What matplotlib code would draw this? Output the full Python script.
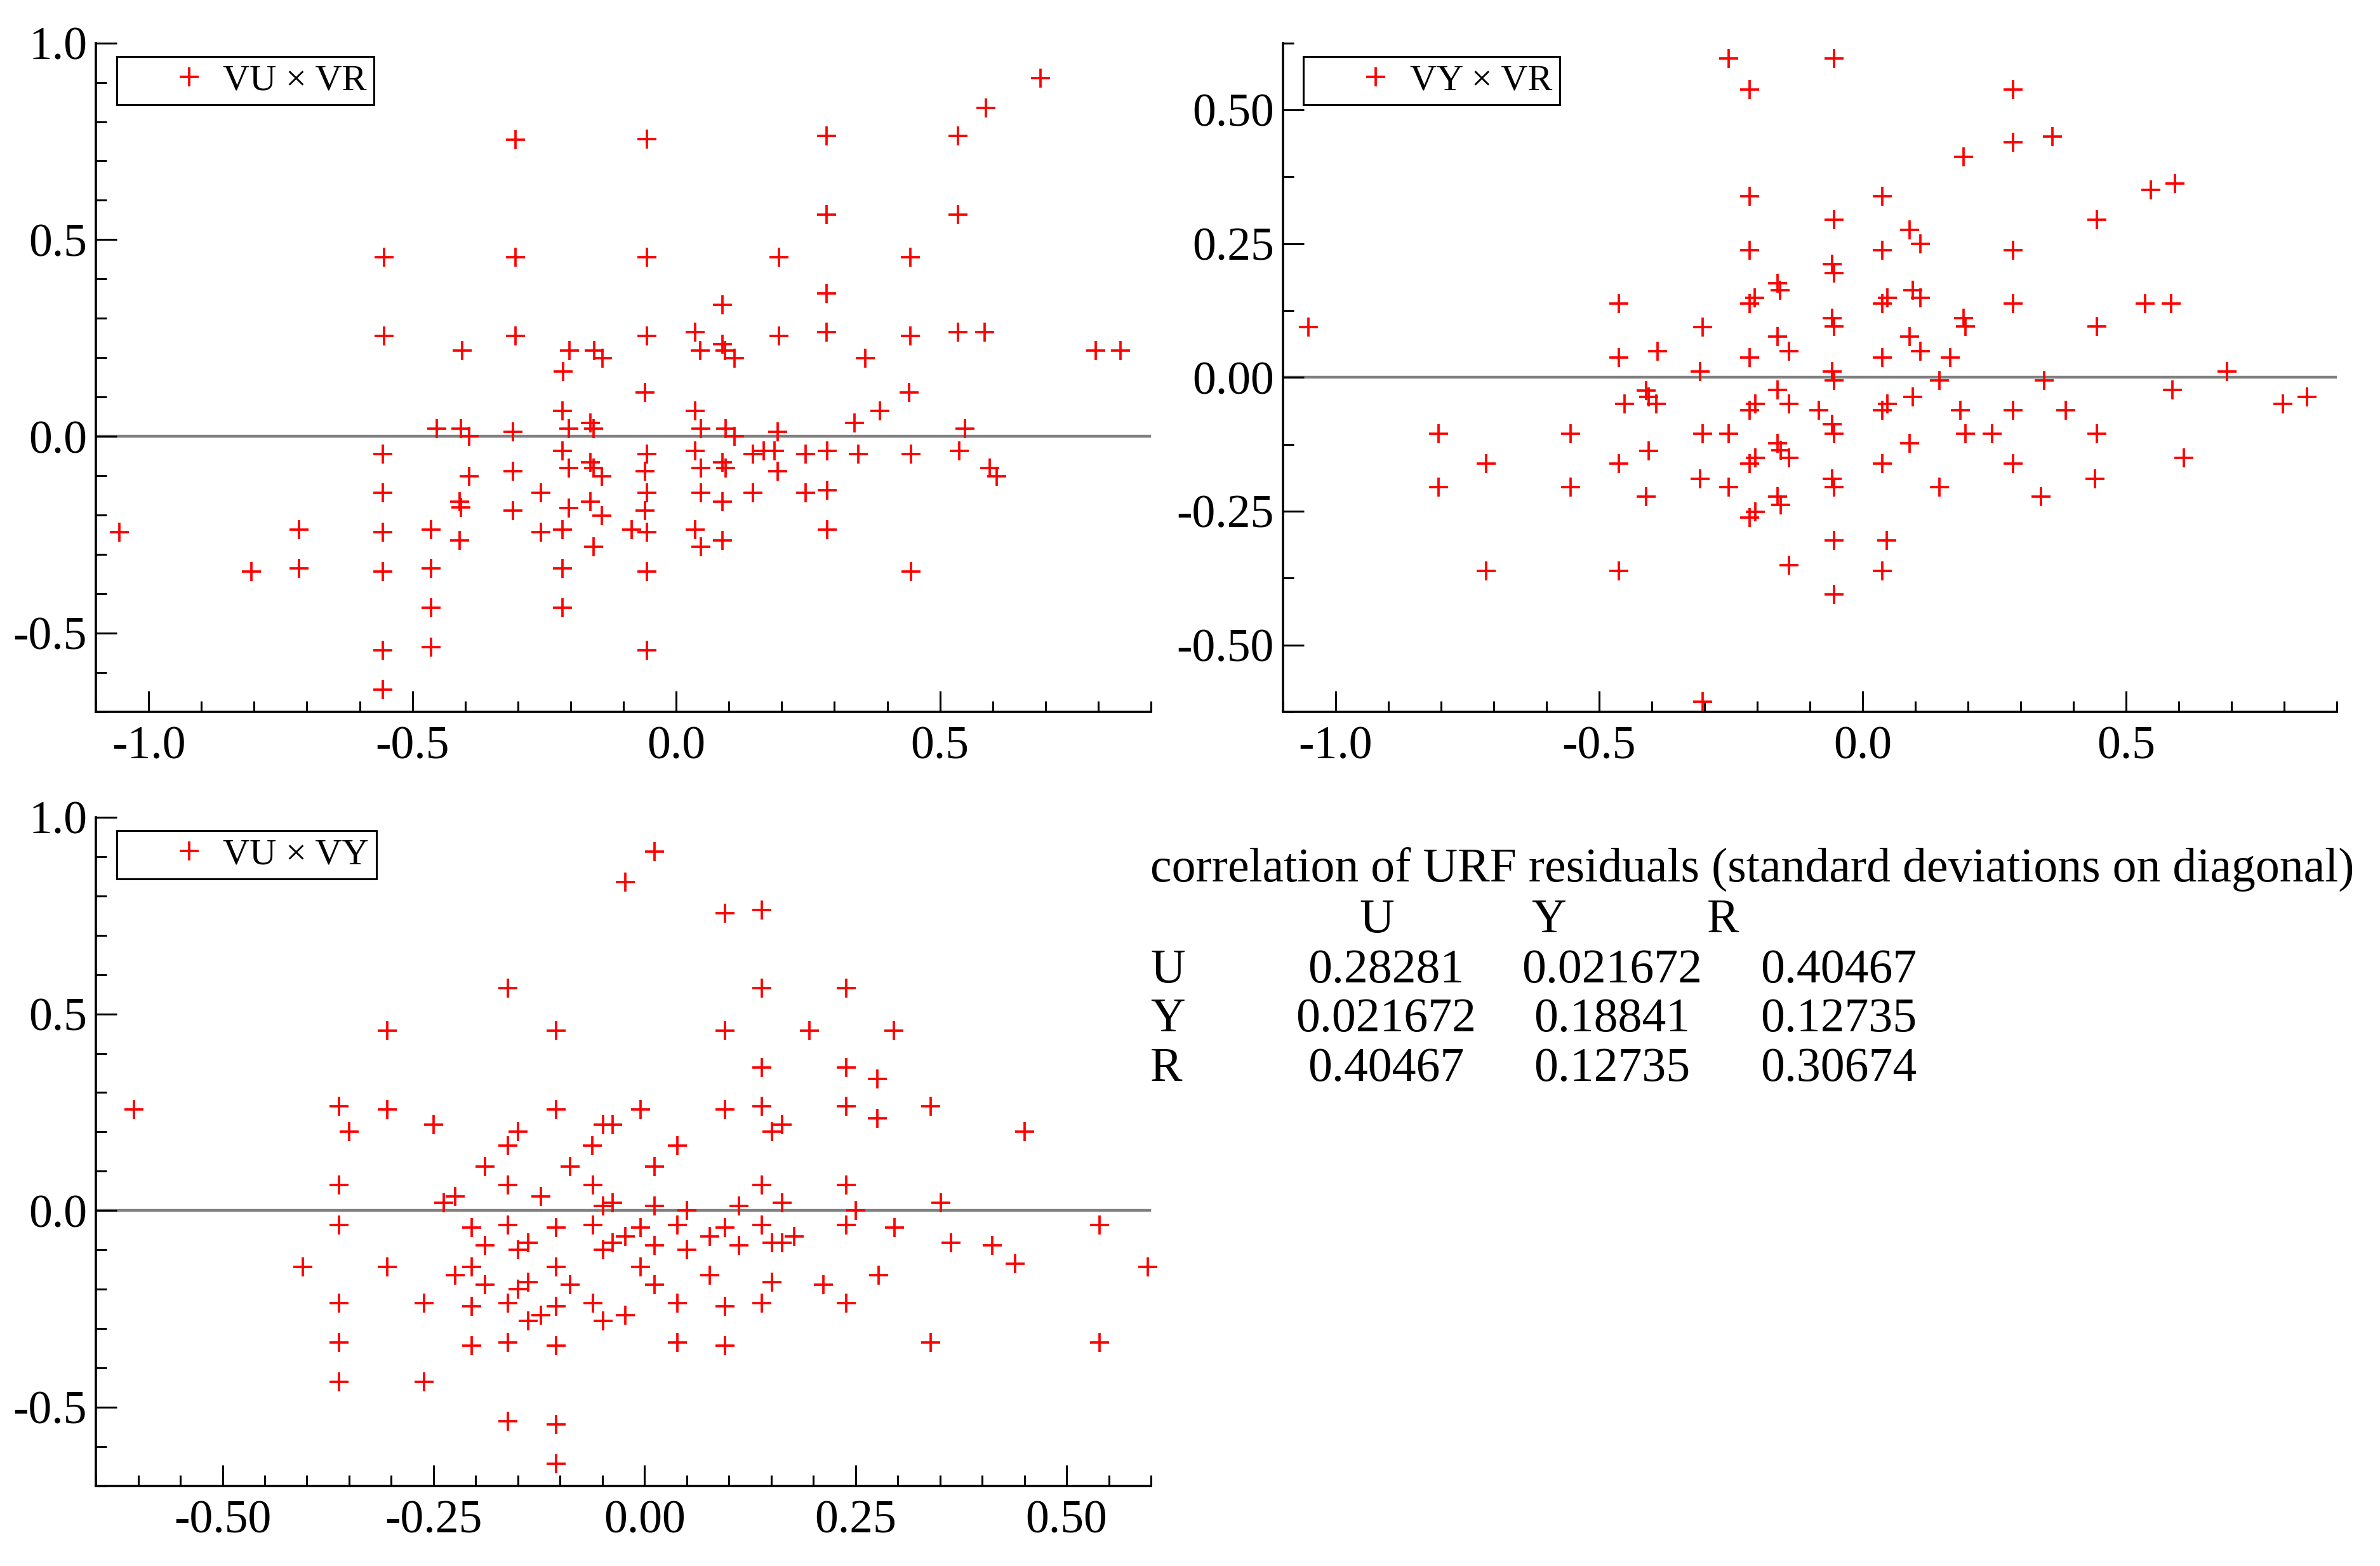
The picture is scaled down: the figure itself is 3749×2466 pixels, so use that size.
import numpy as np
import matplotlib
matplotlib.use('Agg')
import matplotlib.pyplot as plt
from matplotlib.ticker import MultipleLocator, FormatStrFormatter

plt.rcParams['font.family'] = ['Liberation Serif', 'DejaVu Serif']
plt.rcParams['axes.unicode_minus'] = False

# ---- panel 1: VU (y) against VR (x)
vr_1 = [-0.305, -0.554, -0.305, -0.554, -0.305, -0.406, -0.202, -0.156, -0.140, -0.214,
        0.690, 0.587, -0.055, 0.285, 0.534, 0.285, 0.534, -0.055, 0.195, 0.444,
        0.285, 0.088, -0.055, 0.036, 0.195, 0.285, 0.444, 0.534, 0.585, 0.046,
        0.088, 0.093, 0.110, 0.359, 0.795, 0.842,
        -0.216, -0.454, -0.408, -0.393, -0.310, -0.204, -0.163, -0.157, -0.556, -0.216,
        -0.393, -0.310, -0.204, -0.163, -0.157, -0.141, -0.556, -0.411, -0.408, -0.256,
        -0.310, -0.204, -0.163, -0.141, -1.056, -0.715, -0.556, -0.465, -0.411, -0.256,
        -0.216, -0.157, -0.805, -0.715, -0.556, -0.465, -0.216, -0.465, -0.216, -0.556,
        -0.465, -0.556,
        -0.059, 0.441, 0.036, 0.386, 0.338, 0.047, 0.094, 0.110, 0.192, 0.547,
        -0.055, 0.036, 0.146, 0.166, 0.186, 0.245, 0.286, 0.345, 0.445, 0.536,
        -0.059, 0.047, 0.088, 0.094, 0.192, 0.594, 0.608, -0.055, 0.047, 0.088,
        0.146, 0.245, 0.286, -0.059, -0.084, -0.055, 0.036, 0.286, 0.047, 0.088,
        -0.055, 0.445, -0.055]
vu_1 = [0.754, 0.456, 0.456, 0.256, 0.256, 0.218, 0.218, 0.218, 0.199, 0.165,
        0.910, 0.834, 0.755, 0.763, 0.763, 0.564, 0.564, 0.456, 0.456, 0.456,
        0.364, 0.334, 0.256, 0.265, 0.256, 0.265, 0.256, 0.265, 0.265, 0.218,
        0.235, 0.218, 0.199, 0.199, 0.218, 0.218,
        0.065, 0.019, 0.019, 0.000, 0.011, 0.019, 0.035, 0.019, -0.044, -0.036,
        -0.101, -0.089, -0.081, -0.066, -0.081, -0.101, -0.144, -0.165, -0.180, -0.144,
        -0.188, -0.182, -0.165, -0.201, -0.243, -0.236, -0.243, -0.236, -0.265, -0.243,
        -0.236, -0.281, -0.343, -0.336, -0.343, -0.336, -0.336, -0.436, -0.436, -0.543,
        -0.536, -0.644,
        0.111, 0.111, 0.065, 0.065, 0.035, 0.019, 0.019, 0.000, 0.011, 0.019,
        -0.044, -0.036, -0.044, -0.036, -0.036, -0.044, -0.036, -0.044, -0.044, -0.036,
        -0.089, -0.081, -0.066, -0.081, -0.089, -0.081, -0.101, -0.144, -0.144, -0.165,
        -0.144, -0.144, -0.136, -0.188, -0.236, -0.243, -0.236, -0.236, -0.281, -0.265,
        -0.343, -0.343, -0.543]

# ---- panel 2: VY (y) against VR (x)
vr_2 = [-0.254, -0.214, -0.214, -0.214, -0.463, -0.214, -0.205, -1.052, -0.303, -0.463,
        -0.389, -0.214, -0.308,
        -0.054, 0.285, 0.285, 0.360, 0.191, 0.037, 0.547, 0.593, -0.054, 0.444,
        0.089, 0.110, 0.037, 0.285, -0.058, -0.054, -0.161, -0.156, 0.095, 0.110,
        0.047, 0.037, 0.285, 0.536, 0.586, -0.058, -0.054, 0.191, 0.195, 0.444,
        -0.161, -0.140, 0.089, 0.110, 0.037, 0.166, -0.058, -0.054, 0.146, 0.345,
        0.691,
        -0.411, -0.406, -0.452, -0.391, -0.214, -0.204, -0.804, -0.554, -0.304, -0.254,
        -0.406, -0.714, -0.463, -0.214, -0.204, -0.308, -0.804, -0.554, -0.254, -0.411,
        -0.214, -0.204, -0.714, -0.463, -0.304,
        -0.161, 0.588, 0.843, 0.095, -0.140, 0.037, 0.047, -0.083, 0.186, 0.285,
        0.386, 0.797, -0.058, -0.054, 0.195, 0.246, 0.444, -0.161, -0.155, -0.140,
        0.089, 0.037, 0.285, 0.609, -0.058, -0.054, 0.146, 0.441, 0.338, -0.161,
        -0.155, -0.054, 0.046, -0.140, 0.037, -0.054]
vy_2 = [0.596, 0.538, 0.338, 0.238, 0.138, 0.138, 0.149, 0.094, 0.094, 0.037,
        0.049, 0.037, 0.011,
        0.596, 0.538, 0.439, 0.450, 0.412, 0.338, 0.350, 0.362, 0.295, 0.295,
        0.276, 0.250, 0.238, 0.238, 0.212, 0.195, 0.176, 0.163, 0.163, 0.149,
        0.149, 0.138, 0.138, 0.138, 0.138, 0.111, 0.095, 0.111, 0.095, 0.095,
        0.076, 0.049, 0.076, 0.049, 0.037, 0.037, 0.011, -0.005, -0.005, -0.005,
        0.011,
        -0.024, -0.037, -0.049, -0.049, -0.061, -0.050, -0.105, -0.105, -0.105, -0.105,
        -0.137, -0.161, -0.161, -0.161, -0.150, -0.189, -0.205, -0.205, -0.205, -0.223,
        -0.262, -0.251, -0.362, -0.362, -0.606,
        -0.023, -0.023, -0.037, -0.037, -0.049, -0.061, -0.049, -0.061, -0.061, -0.061,
        -0.061, -0.049, -0.088, -0.105, -0.105, -0.105, -0.105, -0.123, -0.136, -0.150,
        -0.123, -0.161, -0.161, -0.150, -0.189, -0.205, -0.205, -0.189, -0.223, -0.223,
        -0.238, -0.305, -0.305, -0.351, -0.362, -0.405]

# ---- panel 3: VU (y) against VY (x)
vy_3 = [-0.162, -0.305, -0.105, -0.605, -0.362, -0.305, -0.105, -0.350, -0.250, -0.150,
        -0.049, -0.038, -0.162, -0.062, -0.189, -0.088,
        0.012, -0.023, 0.095, 0.139, 0.139, 0.239, 0.095, 0.195, 0.295, 0.139,
        0.239, 0.276, -0.005, 0.095, 0.139, 0.239, 0.276, 0.339, 0.151, 0.163,
        0.450, 0.039, 0.012,
        -0.362, -0.162, -0.061, -0.224, -0.238, -0.123, -0.049, -0.038, -0.362, -0.205,
        -0.162, -0.105, -0.061, -0.189, -0.150, -0.138, -0.049, -0.038, -0.405, -0.305,
        -0.205, -0.224, -0.105, -0.189, -0.150, -0.138, -0.088, -0.362, -0.261, -0.205,
        -0.162, -0.105, -0.061, -0.123, -0.138, -0.049, -0.362, -0.205, -0.162, -0.105,
        -0.362, -0.261, -0.162, -0.105, -0.105,
        0.139, 0.239, 0.012, 0.050, 0.112, 0.163, 0.250, 0.351, -0.005, 0.039,
        0.095, 0.139, 0.239, 0.296, 0.539, -0.023, 0.077, 0.177, 0.012, 0.050,
        0.112, 0.151, 0.163, 0.363, 0.412, 0.439, 0.596, -0.005, 0.077, 0.012,
        0.151, 0.212, 0.277, 0.039, 0.095, 0.139, 0.239, -0.023, 0.039, 0.095,
        0.339, 0.539]
vu_3 = [0.565, 0.457, 0.457, 0.257, 0.265, 0.257, 0.257, 0.200, 0.218, 0.200,
        0.218, 0.218, 0.165, 0.165, 0.112, 0.112,
        0.912, 0.835, 0.756, 0.765, 0.565, 0.565, 0.457, 0.457, 0.457, 0.364,
        0.364, 0.335, 0.257, 0.257, 0.265, 0.265, 0.234, 0.265, 0.200, 0.218,
        0.200, 0.165, 0.112,
        0.065, 0.065, 0.065, 0.036, 0.019, 0.036, 0.011, 0.019, -0.036, -0.043,
        -0.036, -0.043, -0.036, -0.088, -0.100, -0.082, -0.100, -0.082, -0.144, -0.144,
        -0.144, -0.165, -0.144, -0.188, -0.200, -0.182, -0.188, -0.236, -0.236, -0.244,
        -0.236, -0.244, -0.236, -0.266, -0.281, -0.281, -0.336, -0.343, -0.336, -0.343,
        -0.436, -0.436, -0.536, -0.544, -0.644,
        0.065, 0.065, 0.011, 0.000, 0.011, 0.019, 0.000, 0.019, -0.043, -0.036,
        -0.043, -0.036, -0.036, -0.043, -0.036, -0.065, -0.065, -0.065, -0.088, -0.100,
        -0.088, -0.082, -0.082, -0.082, -0.088, -0.136, -0.144, -0.144, -0.165, -0.188,
        -0.182, -0.188, -0.165, -0.236, -0.244, -0.236, -0.236, -0.266, -0.336, -0.343,
        -0.336, -0.336]

# ---- correlation table text
table_title = 'correlation of URF residuals (standard deviations on diagonal)'
var_names = ['U', 'Y', 'R']
corr_rows = [[0.28281, 0.021672, 0.40467],
             [0.021672, 0.18841, 0.12735],
             [0.40467, 0.12735, 0.30674]]

TICK_FS = 53
TEXT_FS = 54.5
LEGEND_FS = 42


def style_axes(ax, xlim, ylim, xstep, xminor, ystep, yminor, xfmt, yfmt):
    '''
    only left and bottom spines, inward ticks, gray zero line
    '''
    ax.set_xlim(xlim)
    ax.set_ylim(ylim)
    for side in ['top', 'right']:
        ax.spines[side].set_visible(False)
    for side in ['left', 'bottom']:
        ax.spines[side].set_linewidth(2.6)
    ax.xaxis.set_major_locator(MultipleLocator(xstep))
    ax.xaxis.set_minor_locator(MultipleLocator(xminor))
    ax.yaxis.set_major_locator(MultipleLocator(ystep))
    ax.yaxis.set_minor_locator(MultipleLocator(yminor))
    ax.xaxis.set_major_formatter(FormatStrFormatter(xfmt))
    ax.yaxis.set_major_formatter(FormatStrFormatter(yfmt))
    ax.tick_params(which='both', direction='in', top=False, right=False, width=2.2)
    ax.tick_params(which='major', length=23.5, labelsize=TICK_FS)
    ax.tick_params(which='minor', length=12.5)
    ax.tick_params(axis='x', pad=16)
    ax.tick_params(axis='y', pad=10)
    ax.axhline(0, color='#808080', lw=3.2, zorder=1)


def scatter_panel(ax, x, y, label):
    ax.plot(x, y, linestyle='none', marker='+', color='red', markersize=22,
            markeredgewidth=2.7, label=label, zorder=3, clip_on=False)
    leg = ax.legend(loc='upper left', bbox_to_anchor=(0.0197, 0.98), borderaxespad=0,
                    fontsize=LEGEND_FS, fancybox=False, framealpha=1, edgecolor='black',
                    borderpad=0.2, handlelength=3.5, handletextpad=-0.83, numpoints=1)
    leg.get_frame().set_linewidth(2.2)


fig = plt.figure(figsize=(37.49, 24.66), dpi=100)
ax1 = fig.add_axes([0.0403, 0.5454, 0.4433, 0.4272])
ax2 = fig.add_axes([0.5390, 0.5454, 0.4429, 0.4272])
ax3 = fig.add_axes([0.0403, 0.0512, 0.4433, 0.4269])

style_axes(ax1, (-1.1, 0.9), (-0.7, 1.0), 0.5, 0.1, 0.5, 0.1, '%.1f', '%.1f')
scatter_panel(ax1, vr_1, vu_1, 'VU \u00d7 VR')

style_axes(ax2, (-1.1, 0.9), (-0.625, 0.625), 0.5, 0.1, 0.25, 0.125, '%.1f', '%.2f')
scatter_panel(ax2, vr_2, vy_2, 'VY \u00d7 VR')

style_axes(ax3, (-0.65, 0.6), (-0.7, 1.0), 0.25, 0.05, 0.5, 0.1, '%.2f', '%.1f')
scatter_panel(ax3, vy_3, vu_3, 'VU \u00d7 VY')

# correlation table written as plain text
left_x = 0.4833
col_x = [0.5823, 0.6772, 0.7725]
head_x = [0.5786, 0.6506, 0.7239]
fig.text(left_x, 0.4367, table_title, fontsize=TEXT_FS, ha='left', va='baseline')
for name, hx in zip(var_names, head_x):
    fig.text(hx, 0.4047, name, fontsize=TEXT_FS, ha='center', va='baseline')
row_y = [0.3727, 0.3414, 0.3098]
for name, vals, ry in zip(var_names, corr_rows, row_y):
    fig.text(left_x, ry, name, fontsize=TEXT_FS, ha='left', va='baseline')
    for v, cx in zip(vals, col_x):
        fig.text(cx, ry, '{:.5g}'.format(v), fontsize=TEXT_FS, ha='center', va='baseline')

fig.savefig('out.png', dpi=100)
